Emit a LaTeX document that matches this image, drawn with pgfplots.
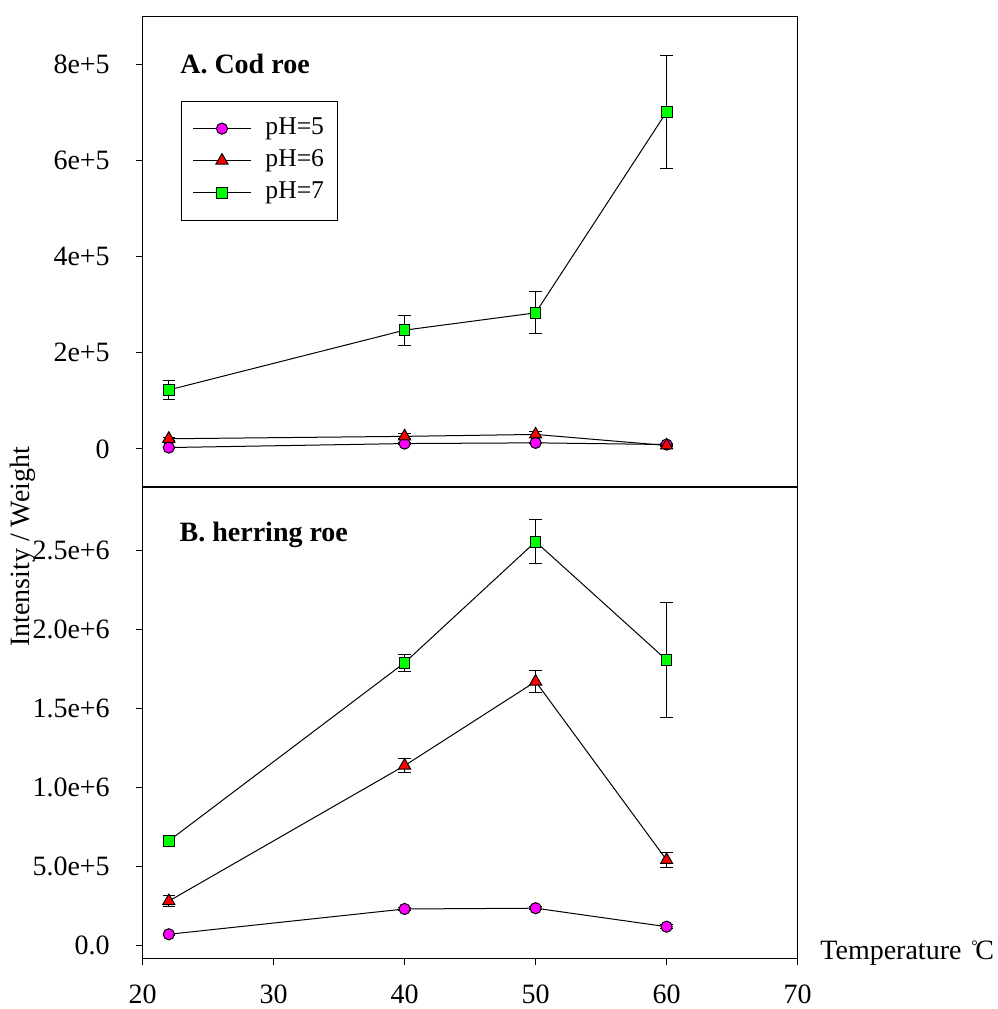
\documentclass[border=0pt]{standalone}
\usepackage{fontspec}
\setmainfont{Liberation Serif}
\usepackage{pgfplots}
\usepackage{pgfplotstable}
\pgfplotsset{compat=1.18}
\definecolor{mag}{HTML}{FF00FF}
\definecolor{rd}{HTML}{FF0000}
\definecolor{grn}{HTML}{00FF00}

% cod roe (panel A)
\pgfplotstableread{
x y e
22 2700 1500
40 11000 1500
50 12500 1500
60 9000 1500
}\codA
\pgfplotstableread{
x y e
22 21000 3000
40 26000 5000
50 30000 6000
60 7000 2000
}\codB
\pgfplotstableread{
x y e
22 122600 20000
40 247000 31000
50 283000 44000
60 701000 118000
}\codC
% herring roe (panel B)
\pgfplotstableread{
x y e
22 72000 8000
40 232000 8000
50 237000 8000
60 120000 12000
}\herA
\pgfplotstableread{
x y e
22 282000 34000
40 1139000 44000
50 1671000 68000
60 542000 49000
}\herB
\pgfplotstableread{
x y e
22 663000 15000
40 1790000 55000
50 2556000 140000
60 1807000 366000
}\herC

\pgfplotsset{
  panel/.style={
    scale only axis, width=327.5pt, height=235.5pt,
    xmin=20, xmax=70, ymin=-80000,
    axis line style={line width=0.8pt},
    tick align=outside, ytick pos=left, xtick pos=bottom,
    major tick length=3.4pt, tick style={black, line width=0.6pt},
    tick label style={font=\fontsize{14}{16}\selectfont},
    yticklabel style={xshift=-9.5pt},
    xticklabel style={yshift=-6.5pt},
    /pgf/number format/assume math mode=true,
    scaled y ticks=false, clip=false,
  },
  s5/.style={black, line width=0.5pt, mark=*, mark size=2.8pt,
    mark options={fill=mag, draw=black, line width=0.5pt}},
  s6/.style={black, line width=0.5pt, mark=triangle*, mark size=3.5pt,
    mark options={fill=rd, draw=black, line width=0.5pt}},
  s7/.style={black, line width=0.5pt, mark=square*, mark size=2.7pt,
    mark options={fill=grn, draw=black, line width=0.5pt}},
}

\begin{document}
\begin{tikzpicture}
\path[use as bounding box] (0,0) rectangle (499pt,504.5pt);

\begin{axis}[panel, at={(71.3pt,260.85pt)}, anchor=south west,
  ymax=900000, xtick=\empty,
  ytick={0,200000,400000,600000,800000},
  yticklabels={0,2e+5,4e+5,6e+5,8e+5},
  legend style={at={(0.0586,0.821)}, anchor=north west, draw=black,
    line width=0.5pt, font=\fontsize{12.8}{15}\selectfont,
    cells={anchor=west}, inner xsep=5.5pt, inner ysep=6.75pt,
    nodes={inner sep=1pt, text height=9pt, text depth=3pt},
    row sep=2pt, column sep=6pt},
  legend image code/.code={\draw[#1, mark repeat=2, mark phase=2]
    plot coordinates {(0pt,0pt)(14.5pt,0pt)(29pt,0pt)};},
]
\addplot[s5, error bars/.cd, y dir=both, y explicit,
  error bar style={black, line width=0.5pt},
  error mark options={rotate=90, black, mark size=3.1pt, line width=0.5pt}]
  table[x=x, y=y, y error=e] {\codA};
\addplot[s6, error bars/.cd, y dir=both, y explicit,
  error bar style={black, line width=0.5pt},
  error mark options={rotate=90, black, mark size=3.1pt, line width=0.5pt}]
  table[x=x, y=y, y error=e] {\codB};
\addplot[s7, error bars/.cd, y dir=both, y explicit,
  error bar style={black, line width=0.5pt},
  error mark options={rotate=90, black, mark size=3.1pt, line width=0.5pt}]
  table[x=x, y=y, y error=e] {\codC};
\legend{pH=5, pH=6, pH=7}
\node[anchor=base west, inner sep=0pt, font=\bfseries\fontsize{14}{16}\selectfont]
  at (axis cs:22.85,782000) {A. Cod roe};
\end{axis}

\begin{axis}[panel, at={(71.3pt,25.35pt)}, anchor=south west,
  ymax=2900000,
  xtick={20,30,40,50,60,70},
  ytick={0,500000,1000000,1500000,2000000,2500000},
  yticklabels={0.0,5.0e+5,1.0e+6,1.5e+6,2.0e+6,2.5e+6},
]
\addplot[s5, error bars/.cd, y dir=both, y explicit,
  error bar style={black, line width=0.5pt},
  error mark options={rotate=90, black, mark size=3.1pt, line width=0.5pt}]
  table[x=x, y=y, y error=e] {\herA};
\addplot[s6, error bars/.cd, y dir=both, y explicit,
  error bar style={black, line width=0.5pt},
  error mark options={rotate=90, black, mark size=3.1pt, line width=0.5pt}]
  table[x=x, y=y, y error=e] {\herB};
\addplot[s7, error bars/.cd, y dir=both, y explicit,
  error bar style={black, line width=0.5pt},
  error mark options={rotate=90, black, mark size=3.1pt, line width=0.5pt}]
  table[x=x, y=y, y error=e] {\herC};
\node[anchor=base west, inner sep=0pt, font=\bfseries\fontsize{14}{16}\selectfont]
  at (axis cs:22.8,2555000) {B. herring roe};
\end{axis}

\node[rotate=90, font=\fontsize{14}{16}\selectfont] at (11.5pt,231pt) {Intensity / Weight};
\node[anchor=base west, inner sep=0pt, font=\fontsize{14}{16}\selectfont] at (410pt,24.5pt)
  {Temperature\kern5pt\raisebox{4.2pt}{\fontsize{8}{8}\selectfont°}\kern-1.2pt C};
\end{tikzpicture}
\end{document}
